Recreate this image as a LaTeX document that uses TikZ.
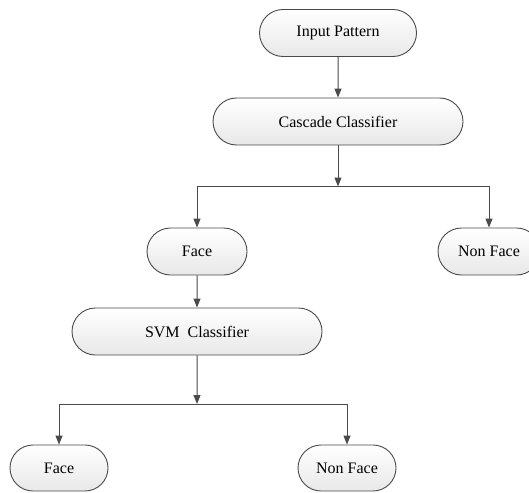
\documentclass[tikz,border=0pt]{standalone}
\usepackage{fontspec}
\setmainfont{Liberation Serif}
\usetikzlibrary{shapes.misc,arrows.meta}
\definecolor{edgegray}{HTML}{4A4A4A}
\definecolor{shadegray}{HTML}{E8E8E8}
\tikzset{
  pill/.style={rounded rectangle, draw=edgegray, line width=0.9pt,
    top color=white, bottom color=shadegray, inner sep=0pt,
    minimum height=47pt, font=\fontsize{16pt}{19pt}\selectfont},
  link/.style={draw=edgegray, line width=1pt,
    -{Triangle[length=9pt,width=7pt]}}
}
\begin{document}
\begin{tikzpicture}[x=1pt,y=-1pt]
  \useasboundingbox (0,0) rectangle (529,492);
  \clip (0,0) rectangle (529,492);

  % nodes
  \node[pill, minimum width=157pt] (in)   at (338,33)    {Input Pattern};
  \node[pill, minimum width=250pt] (cas)  at (338,121.5) {Cascade Classifier};
  \node[pill, minimum width=100pt] (f1)   at (197,251.5) {Face};
  \node[pill, minimum width=102pt] (nf1)  at (489,251.5) {Non Face};
  \node[pill, minimum width=250pt] (svm)  at (197,331.5) {SVM\ \ Classifier};
  \node[pill, minimum width=98pt, minimum height=46pt] (f2)  at (59,468)  {Face};
  \node[pill, minimum width=98pt, minimum height=46pt] (nf2) at (347,468) {Non Face};

  % branch points
  \coordinate (s1) at (338,186.5);
  \coordinate (s2) at (197,404);

  % connectors
  \draw[link] (in) -- (cas);
  \draw[link] (cas) -- (s1);
  \draw[link] (s1) -| (f1);
  \draw[link] (s1) -| (nf1);
  \draw[link] (f1) -- (svm);
  \draw[link] (svm) -- (s2);
  \draw[link] (s2) -| (f2);
  \draw[link] (s2) -| (nf2);
\end{tikzpicture}
\end{document}
